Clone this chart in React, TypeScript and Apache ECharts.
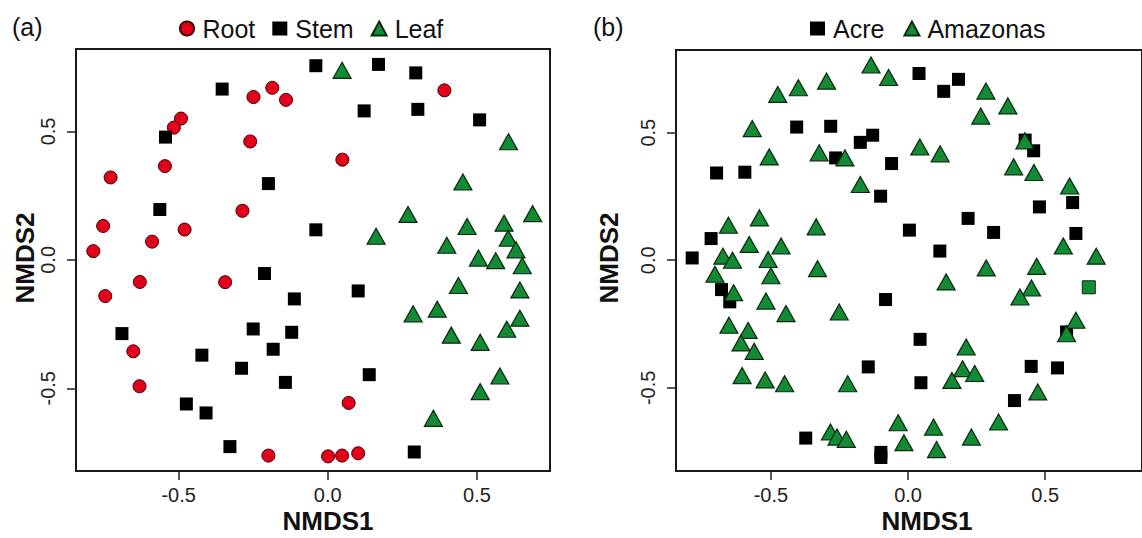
import React, { useEffect, useRef } from 'react';
import * as echarts from 'echarts';

const tickValues = [-0.5, 0, 0.5];

const rootPts = [
  [-0.249, 0.634], [-0.186, 0.67], [-0.14, 0.623], [-0.492, 0.55], [-0.516, 0.515],
  [-0.26, 0.461], [-0.546, 0.365], [-0.728, 0.321], [-0.286, 0.191], [-0.753, 0.132],
  [-0.48, 0.118], [-0.589, 0.071], [-0.786, 0.034], [0.391, 0.66], [0.049, 0.39],
  [-0.63, -0.086], [-0.746, -0.141], [-0.344, -0.087], [-0.652, -0.356], [-0.631, -0.492],
  [-0.199, -0.762], [0.07, -0.557], [0.001, -0.765], [0.048, -0.762], [0.102, -0.753],
];

const stemPts = [
  [-0.354, 0.665], [-0.544, 0.478], [-0.199, 0.297], [-0.563, 0.196], [-0.04, 0.756],
  [0.17, 0.761], [0.295, 0.728], [0.122, 0.58], [0.302, 0.586], [0.509, 0.545],
  [-0.04, 0.117], [0.102, -0.121], [0.139, -0.447], [0.29, -0.748], [-0.212, -0.053],
  [-0.112, -0.152], [-0.25, -0.269], [-0.121, -0.282], [-0.69, -0.287], [-0.183, -0.348],
  [-0.422, -0.371], [-0.289, -0.422], [-0.142, -0.477], [-0.474, -0.561], [-0.408, -0.596],
  [-0.328, -0.727],
];

const leafPts = [
  [0.048, 0.738], [0.606, 0.46], [0.453, 0.303], [0.269, 0.177], [0.687, 0.18],
  [0.467, 0.13], [0.591, 0.143], [0.162, 0.092], [0.605, 0.084], [0.399, 0.057],
  [0.631, 0.039], [0.505, 0.007], [0.563, -0.003], [0.652, -0.023], [0.438, -0.1],
  [0.644, -0.117], [0.286, -0.21], [0.367, -0.192], [0.644, -0.227], [0.6, -0.27],
  [0.414, -0.293], [0.511, -0.321], [0.577, -0.452], [0.511, -0.513], [0.354, -0.617],
];

const acrePts = [
  [-0.406, 0.522], [-0.282, 0.525], [-0.129, 0.49], [-0.174, 0.462], [-0.264, 0.401],
  [-0.698, 0.342], [-0.595, 0.345], [-0.1, 0.251], [-0.718, 0.085], [-0.06, 0.379],
  [-0.787, 0.009], [-0.68, -0.115], [-0.65, -0.163], [-0.082, -0.154], [-0.145, -0.418],
  [-0.373, -0.697], [-0.099, -0.753], [-0.099, -0.773], [0.04, 0.732], [0.184, 0.709],
  [0.13, 0.662], [0.427, 0.471], [0.458, 0.429], [0.479, 0.209], [0.6, 0.226],
  [0.219, 0.164], [0.005, 0.118], [0.312, 0.109], [0.612, 0.105], [0.116, 0.036],
  [0.044, -0.31], [0.047, -0.48], [0.449, -0.416], [0.545, -0.422], [0.388, -0.55],
  [0.578, -0.281],
];

const amazonasPts = [
  [-0.135, 0.765], [-0.071, 0.716], [-0.297, 0.702], [-0.4, 0.676], [-0.475, 0.65],
  [-0.568, 0.516], [-0.506, 0.405], [-0.324, 0.421], [-0.23, 0.401], [-0.174, 0.297],
  [-0.655, 0.137], [-0.542, 0.166], [-0.335, 0.131], [-0.579, 0.062], [-0.463, 0.056],
  [-0.675, 0.016], [-0.64, 0.0], [-0.51, 0.003], [-0.704, -0.055], [-0.5, -0.061],
  [-0.33, -0.033], [-0.636, -0.127], [-0.518, -0.16], [-0.445, -0.209], [-0.251, -0.203],
  [-0.653, -0.255], [-0.583, -0.275], [-0.609, -0.324], [-0.561, -0.357], [-0.605, -0.452],
  [-0.521, -0.469], [-0.45, -0.484], [-0.22, -0.484], [-0.283, -0.673], [-0.259, -0.693],
  [-0.225, -0.702], [0.284, 0.663], [0.364, 0.605], [0.265, 0.565], [0.043, 0.444],
  [0.117, 0.417], [0.426, 0.468], [0.385, 0.366], [0.459, 0.344], [0.589, 0.291],
  [0.566, 0.056], [0.686, 0.016], [0.285, -0.03], [0.469, -0.024], [0.139, -0.085],
  [0.45, -0.109], [0.408, -0.144], [0.612, -0.235], [0.578, -0.288], [0.212, -0.34],
  [0.199, -0.425], [0.243, -0.444], [0.16, -0.471], [0.473, -0.516], [-0.036, -0.637],
  [0.093, -0.654], [0.33, -0.634], [-0.015, -0.715], [0.104, -0.742], [0.231, -0.693],
];

// one Amazonas sample drawn as a green square in the original
const amazonasSquarePts = [[0.659, -0.106]];

const FONT = 'Liberation Sans, Arial, Helvetica, sans-serif';
const RED = '#e3001b';
const GREEN = '#138a34';

export default function App() {
  const ref = useRef<HTMLDivElement>(null);
  useEffect(() => {
    const chart = echarts.init(ref.current!, null, { renderer: 'svg' });

    const mkX = (gi: number, min: number, max: number) => ({
      type: 'value', gridIndex: gi, min, max, position: 'bottom',
      axisLine: { show: false, onZero: false }, splitLine: { show: false },
      axisTick: { show: true, inside: false, length: 9, customValues: tickValues, lineStyle: { color: '#222', width: 1.5 } },
      axisLabel: { customValues: tickValues, formatter: (v: number) => v.toFixed(1), fontSize: 20, color: '#222', margin: 14, fontFamily: FONT },
    });
    const mkY = (gi: number, min: number, max: number) => ({
      type: 'value', gridIndex: gi, min, max, position: 'left',
      axisLine: { show: false, onZero: false }, splitLine: { show: false },
      axisTick: { show: true, inside: false, length: 9, customValues: tickValues, lineStyle: { color: '#222', width: 1.5 } },
      axisLabel: { customValues: tickValues, formatter: (v: number) => v.toFixed(1), fontSize: 20, color: '#222', margin: 18, rotate: 90, fontFamily: FONT },
    });

    const circleStyle = { color: RED, borderColor: '#400000', borderWidth: 1, opacity: 1 };
    const squareStyle = { color: '#000', borderColor: '#000', borderWidth: 0, opacity: 1 };
    const triStyle = { color: GREEN, borderColor: '#092a10', borderWidth: 1.2, opacity: 1 };

    const legendText = { fontSize: 25, color: '#111', fontFamily: FONT, padding: [0, 0, 0, 3] };

    chart.setOption({
      animation: false,
      backgroundColor: '#fff',
      grid: [
        { left: 76, top: 49, width: 474, height: 422, show: true, borderColor: '#1a1a1a', borderWidth: 2, backgroundColor: 'transparent' },
        { left: 676, top: 50, width: 504, height: 421, show: true, borderColor: '#1a1a1a', borderWidth: 2, backgroundColor: 'transparent' },
      ],
      xAxis: [mkX(0, -0.844, 0.745), mkX(1, -0.846, 0.853)],
      yAxis: [mkY(0, -0.822, 0.821), mkY(1, -0.826, 0.824)],
      legend: [
        {
          left: 174, top: 11, itemWidth: 15, itemHeight: 14, itemGap: 17,
          data: ['Root', 'Stem', 'Leaf'], textStyle: legendText,
        },
        {
          left: 805, top: 11, itemWidth: 15, itemHeight: 14, itemGap: 19,
          data: ['Acre', 'Amazonas'], textStyle: legendText,
        },
      ],
      graphic: [
        { type: 'text', x: 12, y: 27, style: { text: '(a)', font: `25px ${FONT}`, fill: '#111', verticalAlign: 'middle' } },
        { type: 'text', x: 593, y: 27, style: { text: '(b)', font: `25px ${FONT}`, fill: '#111', verticalAlign: 'middle' } },
        { type: 'text', x: 328, y: 521, style: { text: 'NMDS1', font: `bold 26px ${FONT}`, fill: '#111', align: 'center', verticalAlign: 'middle' } },
        { type: 'text', x: 927, y: 521, style: { text: 'NMDS1', font: `bold 26px ${FONT}`, fill: '#111', align: 'center', verticalAlign: 'middle' } },
        { type: 'text', x: 25, y: 258, rotation: Math.PI / 2, style: { text: 'NMDS2', font: `bold 26px ${FONT}`, fill: '#111', align: 'center', verticalAlign: 'middle' } },
        { type: 'text', x: 609, y: 258, rotation: Math.PI / 2, style: { text: 'NMDS2', font: `bold 26px ${FONT}`, fill: '#111', align: 'center', verticalAlign: 'middle' } },
      ],
      series: [
        { name: 'Root', type: 'scatter', xAxisIndex: 0, yAxisIndex: 0, symbol: 'circle', symbolSize: 13, itemStyle: circleStyle, data: rootPts },
        { name: 'Stem', type: 'scatter', xAxisIndex: 0, yAxisIndex: 0, symbol: 'rect', symbolSize: 13, itemStyle: squareStyle, data: stemPts },
        { name: 'Leaf', type: 'scatter', xAxisIndex: 0, yAxisIndex: 0, symbol: 'triangle', symbolSize: [18, 16], itemStyle: triStyle, data: leafPts },
        { name: 'Acre', type: 'scatter', xAxisIndex: 1, yAxisIndex: 1, symbol: 'rect', symbolSize: 13, itemStyle: squareStyle, data: acrePts },
        { name: 'Amazonas', type: 'scatter', xAxisIndex: 1, yAxisIndex: 1, symbol: 'triangle', symbolSize: [18, 16], itemStyle: triStyle, data: amazonasPts },
        { name: 'AmazonasSq', type: 'scatter', xAxisIndex: 1, yAxisIndex: 1, symbol: 'rect', symbolSize: 13, itemStyle: { color: GREEN, borderColor: '#092a10', borderWidth: 1, opacity: 1 }, data: amazonasSquarePts },
      ],
    });
    return () => chart.dispose();
  }, []);
  return <div ref={ref} style={{ position: 'absolute', left: 0, top: 0, width: 1142, height: 538, background: '#fff' }} />;
}
